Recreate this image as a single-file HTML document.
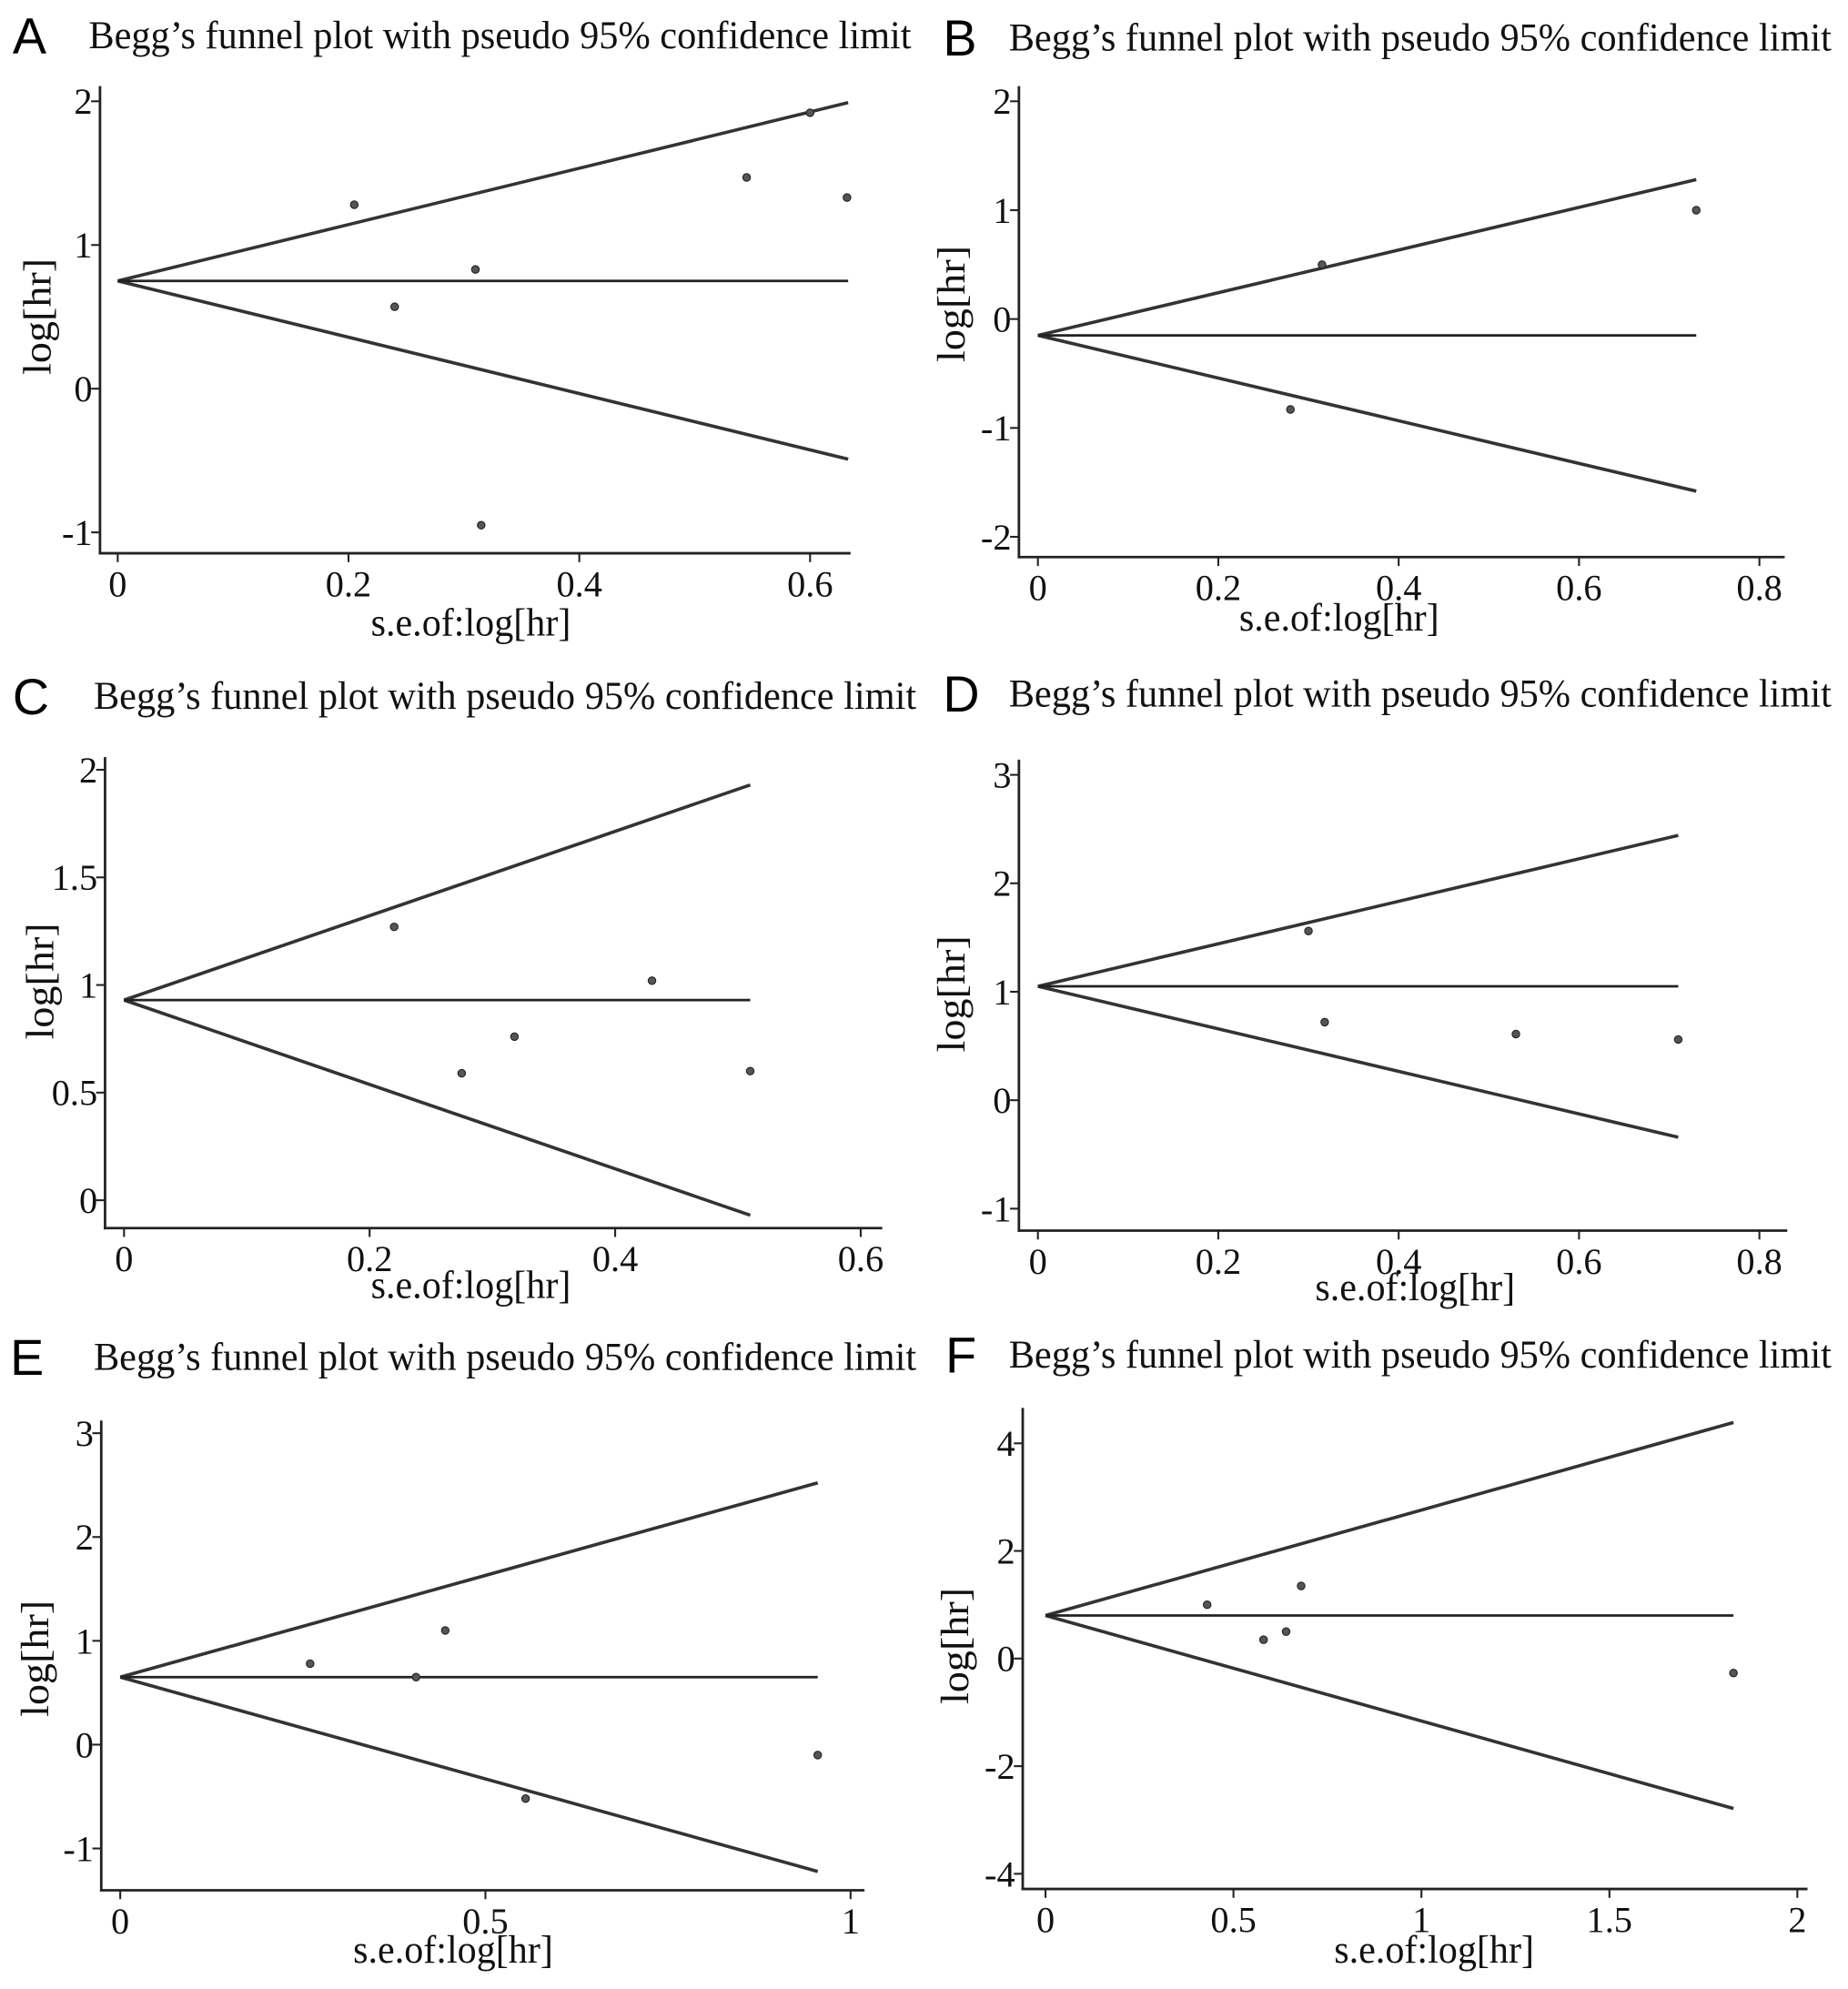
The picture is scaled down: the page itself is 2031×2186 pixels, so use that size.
<!DOCTYPE html>
<html><head><meta charset="utf-8"><style>
html,body{margin:0;padding:0;background:#fff;}
svg{display:block;}
.title{font-family:"Liberation Serif",serif;font-size:31px;fill:#111;}
.tick{font-family:"Liberation Serif",serif;font-size:29px;fill:#111;}
.axl{font-family:"Liberation Serif",serif;font-size:31px;fill:#111;}
.pl{font-family:"Liberation Sans",sans-serif;font-size:40px;fill:#000;}
</style></head><body>
<svg id="fig" width="2031" height="2186" viewBox="0 0 1460 1571" preserveAspectRatio="none" xmlns="http://www.w3.org/2000/svg"></svg>
<script>
// ---- data ----
const A_se = [0.205, 0.24, 0.31, 0.315, 0.545, 0.60, 0.632];
const A_lhr = [1.28, 0.57, 0.83, -0.95, 1.47, 1.92, 1.33];
const A_center = 0.75; const A_maxSe = 0.633;
const A_xticks = [0, 0.2, 0.4, 0.6]; const A_yticks = [2, 1, 0, -1];

const B_se = [0.315, 0.28, 0.73];
const B_lhr = [0.5, -0.83, 1.0];
const B_center = -0.15; const B_maxSe = 0.73;
const B_xticks = [0, 0.2, 0.4, 0.6, 0.8]; const B_yticks = [2, 1, 0, -1, -2];

const C_se = [0.22, 0.275, 0.318, 0.43, 0.51];
const C_lhr = [1.27, 0.59, 0.76, 1.02, 0.6];
const C_center = 0.93; const C_maxSe = 0.51;
const C_xticks = [0, 0.2, 0.4, 0.6]; const C_yticks = [2, 1.5, 1, 0.5, 0];

const D_se = [0.30, 0.318, 0.53, 0.71];
const D_lhr = [1.56, 0.72, 0.61, 0.56];
const D_center = 1.05; const D_maxSe = 0.71;
const D_xticks = [0, 0.2, 0.4, 0.6, 0.8]; const D_yticks = [3, 2, 1, 0, -1];

const E_se = [0.26, 0.405, 0.445, 0.555, 0.955];
const E_lhr = [0.78, 0.65, 1.1, -0.52, -0.1];
const E_center = 0.65; const E_maxSe = 0.955;
const E_xticks = [0, 0.5, 1]; const E_yticks = [3, 2, 1, 0, -1];

const F_se = [0.43, 0.58, 0.64, 0.68, 1.83];
const F_lhr = [1.0, 0.35, 0.5, 1.35, -0.27];
const F_center = 0.8; const F_maxSe = 1.83;
const F_xticks = [0, 0.5, 1, 1.5, 2]; const F_yticks = [4, 2, 0, -2, -4];

// ---- layout (pixel geometry in 1460x1571 view units) ----
const panels = [
 {id:'a',letter:'A',lx:10,ty:38,tx:70,axX:79,axTop:68,axY:437,axR:672,x0:93,x1:640,xv1:0.6,y0:307,y1:80,yv1:2,ylx:40,yly:250,xlx:372,xly:502,
  se:A_se,lhr:A_lhr,center:A_center,maxSe:A_maxSe,xt:A_xticks,yt:A_yticks},
 {id:'b',letter:'B',lx:745,ty:40,tx:797,axX:805,axTop:68,axY:440,axR:1410,x0:820,x1:1390,xv1:0.8,y0:252,y1:80,yv1:2,ylx:762,yly:240,xlx:1058,xly:498,
  se:B_se,lhr:B_lhr,center:B_center,maxSe:B_maxSe,xt:B_xticks,yt:B_yticks},
 {id:'c',letter:'C',lx:10,ty:560,tx:74,axX:83,axTop:598,axY:970,axR:697,x0:98,x1:680,xv1:0.6,y0:948,y1:608,yv1:2,ylx:42,yly:775,xlx:372,xly:1025,
  se:C_se,lhr:C_lhr,center:C_center,maxSe:C_maxSe,xt:C_xticks,yt:C_yticks},
 {id:'d',letter:'D',lx:745,ty:558,tx:797,axX:805,axTop:600,axY:972,axR:1412,x0:820,x1:1390,xv1:0.8,y0:869,y1:612,yv1:3,ylx:762,yly:785,xlx:1118,xly:1027,
  se:D_se,lhr:D_lhr,center:D_center,maxSe:D_maxSe,xt:D_xticks,yt:D_yticks},
 {id:'e',letter:'E',lx:8,ty:1082,tx:74,axX:80,axTop:1122,axY:1493,axR:683,x0:95,x1:672,xv1:1,y0:1378,y1:1132,yv1:3,ylx:38,yly:1310,xlx:358,xly:1550,
  se:E_se,lhr:E_lhr,center:E_center,maxSe:E_maxSe,xt:E_xticks,yt:E_yticks},
 {id:'f',letter:'F',lx:747,ty:1080,tx:797,axX:808,axTop:1112,axY:1492,axR:1428,x0:826,x1:1420,xv1:2,y0:1310,y1:1140,yv1:4,ylx:765,yly:1300,xlx:1133,xly:1550,
  se:F_se,lhr:F_lhr,center:F_center,maxSe:F_maxSe,xt:F_xticks,yt:F_yticks}
];

const NS='http://www.w3.org/2000/svg';
const svg=document.getElementById('fig');
function mk(tag,attrs,parent){const e=document.createElementNS(NS,tag);for(const k in attrs)e.setAttribute(k,attrs[k]);parent.appendChild(e);return e;}

panels.forEach(p=>{
  const g=mk('g',{},svg);
  
  
  const sx=v=>p.x0+(p.x1-p.x0)*v/p.xv1;
  const sy=v=>p.y0+(p.y1-p.y0)*v/p.yv1;
  const lab=mk('text',{x:p.lx,y:p.ty+4,class:'pl'},g);lab.textContent=p.letter;
  
  
  const t=mk('text',{x:p.tx,y:p.ty,class:'title',textLength:650,lengthAdjust:'spacingAndGlyphs'},g);t.textContent='Begg\u2019s funnel plot with pseudo 95% confidence limit';
  
  
  const ya=mk('line',{x1:p.axX,y1:p.axTop,x2:p.axX,y2:p.axY+1,stroke:'#222','stroke-width':2},g);
  
  
  const xa=mk('line',{x1:p.axX-1,y1:p.axY,x2:p.axR,y2:p.axY,stroke:'#222','stroke-width':2},g);
  
  
  p.xt.forEach(v=>{
    mk('line',{x1:sx(v),y1:p.axY,x2:sx(v),y2:p.axY+7,stroke:'#222','stroke-width':1.5},g);
    const tx=mk('text',{x:sx(v),y:p.axY+34,class:'tick','text-anchor':'middle'},g);tx.textContent=String(v);
    
    
  });
  p.yt.forEach(v=>{
    mk('line',{x1:p.axX-7,y1:sy(v),x2:p.axX,y2:sy(v),stroke:'#222','stroke-width':1.5},g);
    const ty=mk('text',{x:p.axX-6,y:sy(v)+10,class:'tick','text-anchor':'end'},g);ty.textContent=String(v);
    
    
  });
  const yl=mk('text',{x:p.ylx,y:p.yly,class:'axl','text-anchor':'middle',textLength:92,lengthAdjust:'spacingAndGlyphs',transform:`rotate(-90 ${p.ylx} ${p.yly})`},g);yl.textContent='log[hr]';
  
  
  const xl=mk('text',{x:p.xlx,y:p.xly,class:'axl','text-anchor':'middle',textLength:158,lengthAdjust:'spacingAndGlyphs'},g);xl.textContent='s.e.of:log[hr]';
  
  
  const xe=sx(p.maxSe), xs=sx(0), yc=sy(p.center);
  const hi=mk('line',{x1:xs,y1:yc,x2:xe,y2:sy(p.center+1.96*p.maxSe),stroke:'#333','stroke-width':2.6},g);
  
  
  const lo=mk('line',{x1:xs,y1:yc,x2:xe,y2:sy(p.center-1.96*p.maxSe),stroke:'#333','stroke-width':2.6},g);
  
  
  const mid=mk('line',{x1:xs,y1:yc,x2:xe,y2:yc,stroke:'#222','stroke-width':2},g);
  
  
  p.se.forEach((s,i)=>{
    const c=mk('circle',{cx:sx(s),cy:sy(p.lhr[i]),r:3,fill:'#555',stroke:'#222','stroke-width':0.8},g);
    
    
  });
});
</script>
</body></html>
